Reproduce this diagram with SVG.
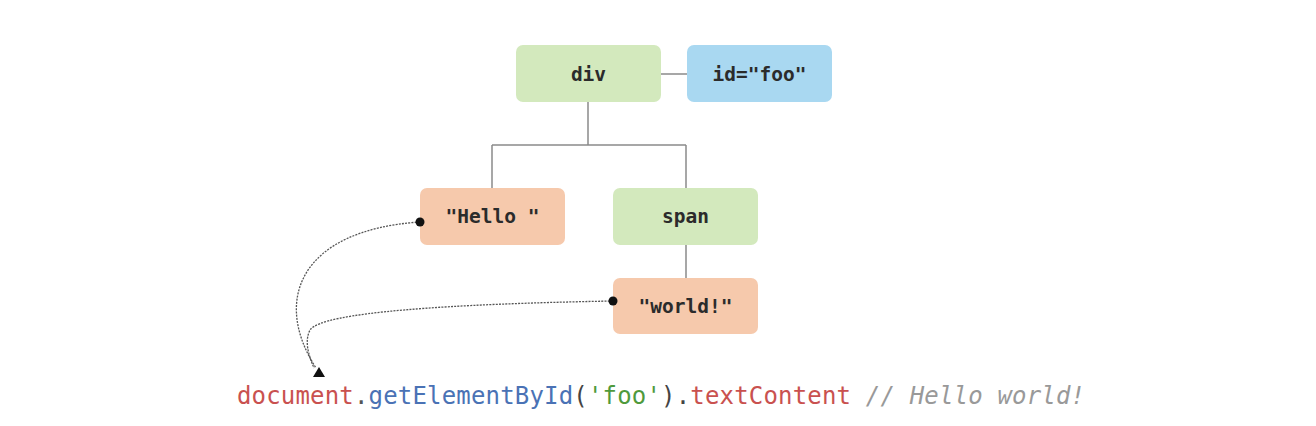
<svg xmlns="http://www.w3.org/2000/svg" width="1316" height="426" viewBox="0 0 1316 426">
<style>
.node text{font-family:"DejaVu Sans Mono",monospace;font-weight:bold;font-size:19.5px;fill:#2b2b2b;text-anchor:middle;dominant-baseline:central}
.green{fill:#d3e9bd}.blue{fill:#a9d8f1}.peach{fill:#f6c9ac}
.tree{stroke:#8a8a8a;stroke-width:1.5;fill:none}
.link{stroke:#555;stroke-width:1.3;fill:none;stroke-dasharray:2 1.2}
.code{font-family:"DejaVu Sans Mono",monospace;font-size:24px}
</style>
<rect width="1316" height="426" fill="#fff"/>
<g id="div" class="node"><rect class="green" x="516" y="45" width="145" height="57" rx="7"/><text x="588.5" y="74">div</text></g>
<g id="attr" class="node"><rect class="blue" x="687" y="45" width="145" height="57" rx="7"/><text x="759.5" y="74">id="foo"</text></g>
<g id="hello" class="node"><rect class="peach" x="420" y="188" width="145" height="57" rx="7"/><text x="492.5" y="216">"Hello "</text></g>
<g id="span" class="node"><rect class="green" x="613" y="188" width="145" height="57" rx="7"/><text x="685.5" y="216">span</text></g>
<g id="world" class="node"><rect class="peach" x="613" y="278" width="145" height="56" rx="7"/><text x="685.5" y="306">"world!"</text></g>
<g id="connectors">
<line class="tree" x1="661" y1="74" x2="687" y2="74"/>
<path class="tree" d="M588,102 V145 M492,145 H686 M492,145 V188 M686,145 V188 M686,245 V278"/>
<path class="link" d="M420,222 C300,230 272,300 316,368"/>
<path class="link" d="M613,301 C450,304 322,312 310,330 C304,342 309,356 314,368"/>
<circle cx="420" cy="222" r="4.5" fill="#111"/>
<circle cx="613" cy="301" r="4.5" fill="#111"/>
<path d="M313,377 L319,367 L325,377 Z" fill="#111"/>
</g>
<g id="code">
<text class="code" x="237" y="404" textLength="848" lengthAdjust="spacing"><tspan fill="#c9514f">document</tspan><tspan fill="#555">.</tspan><tspan fill="#4a72b5">getElementById</tspan><tspan fill="#444">(</tspan><tspan fill="#4f9a3c">'foo'</tspan><tspan fill="#444">).</tspan><tspan fill="#c9514f">textContent</tspan><tspan fill="#999" font-style="italic"> // Hello world!</tspan></text>
</g>
</svg>
